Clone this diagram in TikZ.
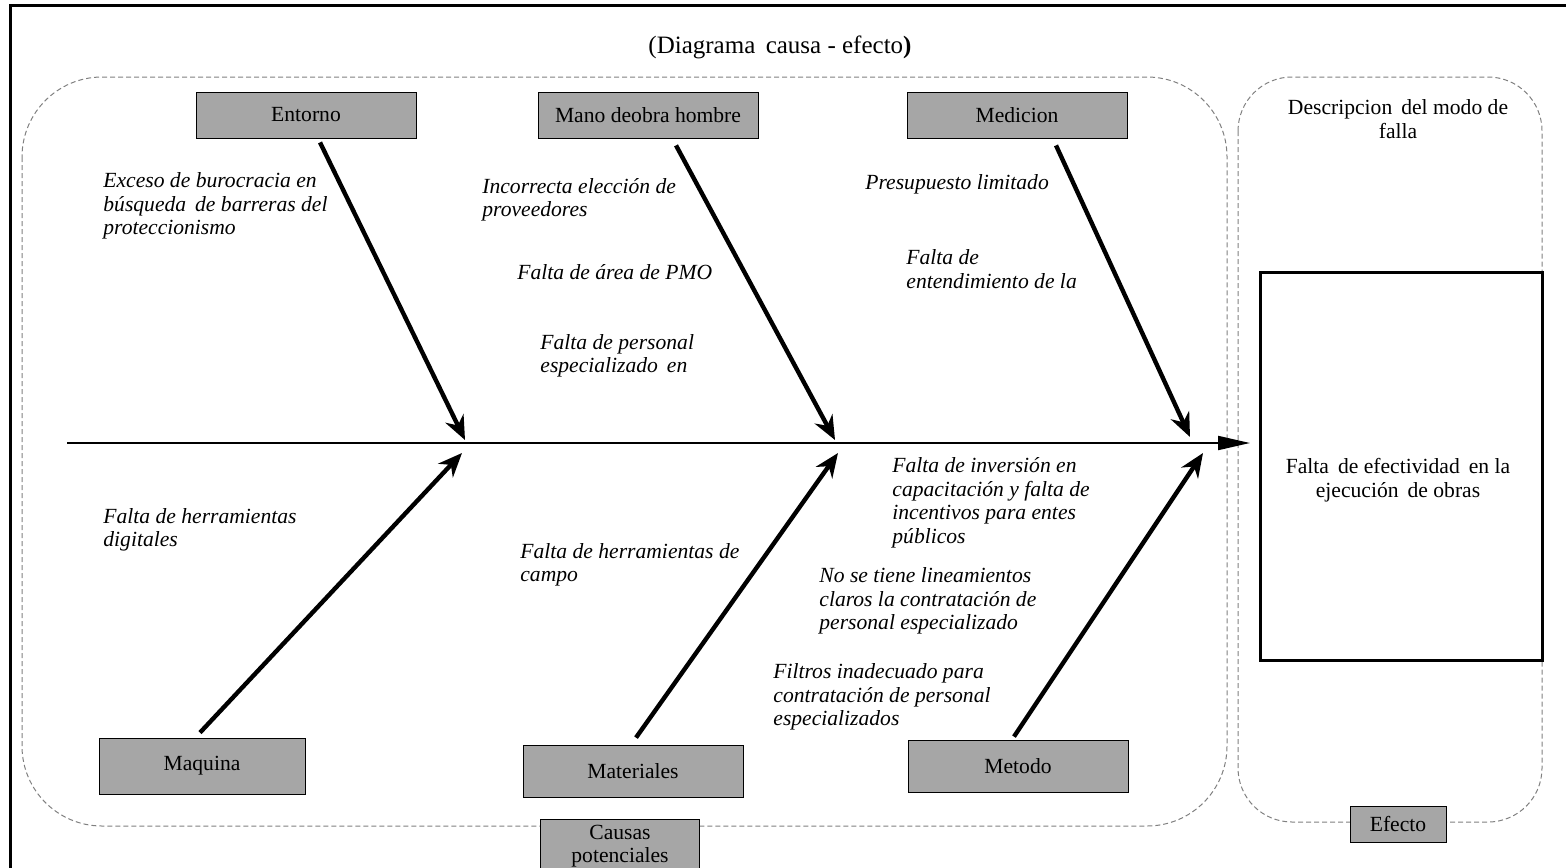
\documentclass[tikz,border=0pt]{standalone}
\usepackage{fontspec}
\setmainfont{Liberation Serif}
\usetikzlibrary{arrows.meta}
\definecolor{boxgray}{HTML}{A6A6A6}

\begin{document}
\begin{tikzpicture}[x=0.5pt, y=-0.5pt,
        every node/.style={font=\fontsize{10.8}{11.75}\selectfont},
        causebox/.style={draw, fill=boxgray, minimum width=110pt, minimum height=23pt, inner sep=1pt},
        causetext/.style={anchor=west, align=left, inner sep=0pt, font=\fontsize{10.8}{11.75}\selectfont\itshape},
        causearrow/.style={-{Stealth[length=12pt, width=10pt]}, line width=2.2pt},
        dashframe/.style={draw=gray, dash pattern=on 2.5pt off 1.5pt, line width=0.5pt}]

            \useasboundingbox (0,0) rectangle (1566,867);

            \draw [line width=1.5pt] (10,880) -- (10,5) -- (1580,5);

            \node (title) at (780,47) {\fontsize{12.5}{14}\selectfont(Diagrama\, causa - efecto\textbf{)}};

            \draw [dashframe, rounded corners=40pt] (22,77) rectangle (1227,826);
            \draw [dashframe, rounded corners=27pt] (1238,77) rectangle (1542,822);

            \node[causebox] (entorno) at (306,115) {Entorno};
            \node[causebox] (mano) at (648,115) {Mano deobra hombre};
            \node[causebox] (medicion) at (1017,115) {Medicion};
            \node[causebox, minimum width=103pt, minimum height=28pt] (maquina) at (202,766) {Maquina};
            \node[causebox, minimum height=26pt] (materiales) at (633,771) {Materiales};
            \node[causebox, minimum height=26pt] (metodo) at (1018,766) {Metodo};

            \node[causebox, minimum width=79.5pt, minimum height=27pt, align=center] (causas) at (620,846) {Causas\\potenciales};
            \node[causebox, minimum width=48pt, minimum height=18pt] (efecto) at (1398,824) {Efecto};

            \coordinate (tail) at (67,443);
            \coordinate (head) at (1250,443);
            \coordinate (up1) at (465,440);
            \coordinate (up2) at (835,440);
            \coordinate (up3) at (1190,437);
            \coordinate (dn1) at (462,453);
            \coordinate (dn2) at (838,453);
            \coordinate (dn3) at (1203,453);

            \draw [-{Triangle[length=16pt, width=7pt]}, line width=1pt] (tail) -- (head);

            \draw [causearrow] ([xshift=7pt, yshift=-2pt]entorno.south) -- (up1);
            \draw [causearrow] ([xshift=14pt, yshift=-3.5pt]mano.south) -- (up2);
            \draw [causearrow] ([xshift=19.5pt, yshift=-3.5pt]medicion.south) -- (up3);
            \draw [causearrow] ([xshift=-1pt, yshift=2.5pt]maquina.north) -- (dn1);
            \draw [causearrow] ([xshift=1.5pt, yshift=3.5pt]materiales.north) -- (dn2);
            \draw [causearrow] ([xshift=-2pt, yshift=1.5pt]metodo.north) -- (dn3);

            \node[causetext] (exceso) at (103,206) {Exceso de burocracia en\\búsqueda\, de barreras del\\proteccionismo};
            \node[causetext] (incorrecta) at (482,200) {Incorrecta elección de\\proveedores};
            \node[causetext] (pmo) at (517,272) {Falta de área de PMO};
            \node[causetext] (personal) at (540,356) {Falta de personal\\especializado\, en};
            \node[causetext] (presupuesto) at (865,184) {Presupuesto limitado};
            \node[causetext] (entendimiento) at (906,269) {Falta de\\entendimiento de la};
            \node[causetext] (digitales) at (103,530) {Falta de herramientas\\digitales};
            \node[causetext] (campo) at (520,565) {Falta de herramientas de\\campo};
            \node[causetext] (inversion) at (892,503) {Falta de inversión en\\capacitación y falta de\\incentivos para entes\\públicos};
            \node[causetext] (lineamientos) at (819,601) {No se tiene lineamientos\\claros la contratación de\\personal especializado};
            \node[causetext] (filtros) at (773,697) {Filtros inadecuado para\\contratación de personal\\especializados};

            \node[align=center] (modo) at (1398,119) {Descripcion\, del modo de\\falla};
            \node[draw, line width=1.5pt, minimum width=141pt, minimum height=194pt] (falla) at (1401,466) {};
            \node[align=center] (fallatext) at (1398,480) {Falta\, de efectividad\, en la\\ejecución\, de obras};

        \end{tikzpicture}
\end{document}
